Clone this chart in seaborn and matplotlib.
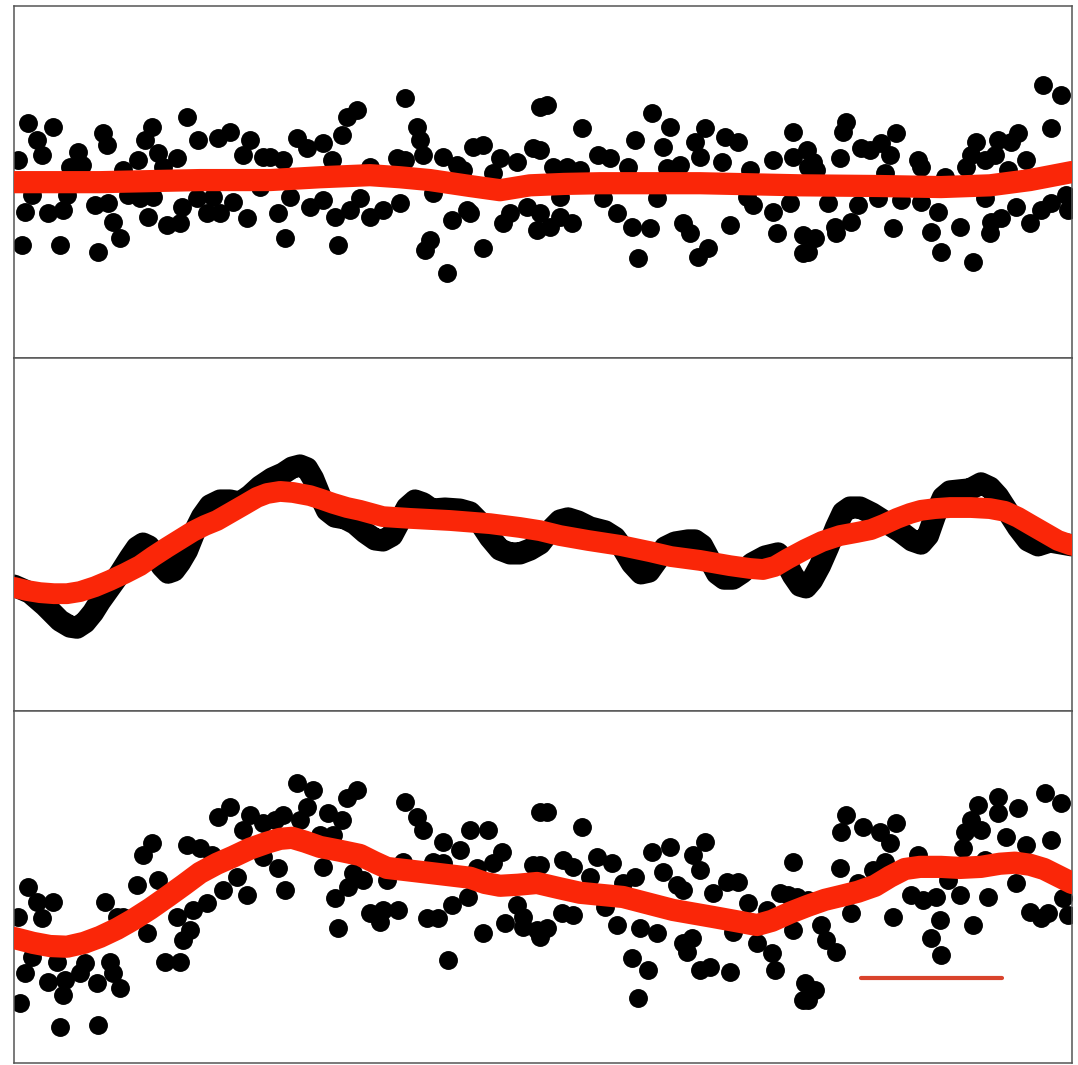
import matplotlib
matplotlib.use("Agg")
import matplotlib.pyplot as plt
from matplotlib.lines import Line2D
import seaborn as sns

# ---- noise samples (top panel) ----
noise_x = [1.4, 3.9, 2.3, 2.8, 0.4, 6.4, 8.9, 9.3, 5.6, 6.8, 10.9, 12.4, 13.8, 13.1, 14.4, 16.3, 14.9,
           17.3, 18.4, 20.4, 21.6, 23.6, 22.9, 24.9, 24.6, 1.1, 1.8, 3.4, 4.9, 5.3, 8.1, 9.4, 9.9, 10.6,
           8.4, 4.6, 0.8, 11.4, 12.6, 13.4, 15.3, 16.6, 16.8, 18.3, 19.3, 20.6, 21.9, 23.3, 19.9, 13.9,
           25.6, 28.3, 29.3, 30.9, 32.8, 33.3, 34.3, 31.8, 26.9, 39.1, 40.3, 40.6, 40.9, 38.3, 39.1, 35.6,
           42.9, 44.3, 44.9, 45.9, 46.9, 48.6, 50.3, 51.9, 52.6, 47.9, 27.6, 26.4, 27.1, 29.6, 30.9, 32.1,
           33.6, 34.6, 32.4, 35.6, 36.9, 38.6, 41.6, 41.1, 43.3, 43.8, 45.3, 45.6, 46.9, 48.9, 49.6, 51.3,
           52.3, 41.9,
           53.3, 56.8, 63.8, 65.6, 62.1, 64.9, 68.1, 69.1, 71.1, 72.4, 77.9, 52.6, 58.4, 59.6, 61.4, 65.3,
           66.6, 68.6, 70.8, 53.9, 55.3, 56.6, 73.6, 75.9, 77.9, 79.3, 52.6, 53.6, 54.6, 55.8, 58.9, 60.3,
           61.8, 63.6, 64.3, 66.9, 67.6, 62.4, 68.4, 69.4, 71.6, 73.9, 75.9, 76.3, 77.6, 78.9, 78.9, 73.3,
           54.6,
           102.9, 104.7, 103.7, 83.2, 82.9, 88.2, 84.7, 85.6, 86.7, 87.6, 82.6, 79.9, 90.4, 90.7, 96.2,
           98.4, 100.4, 99.7, 95.7, 95.2, 97.1, 98.1, 101.2, 99.4, 93.1, 87.1, 79.4, 80.2, 81.4, 84.4,
           83.7, 82.1, 80.1, 79.4, 82.2, 87.9, 88.7, 90.7, 92.4, 91.7, 92.7, 94.6, 95.9, 97.6, 97.7, 98.7,
           100.2, 101.6, 102.7, 103.7, 105.4, 105.2, 97.1, 86.4]
noise_y = [1.69, 1.57, 1.20, 0.77, 0.63, 0.86, 1.40, 1.06, 0.43, 0.49, 0.34, 0.63, 1.57, 1.20, 0.83, 0.69,
           0.43, 1.86, 1.20, 1.26, 1.43, 1.20, 0.77, 0.71, -0.14, -0.86, -0.37, -0.89, -0.80, -0.37, -0.66,
           -0.60, -1.14, -1.60, -2.00, -1.80, -1.80, -0.37, -0.46, -1.00, -1.23, -1.17, -0.71, -0.46, -0.89,
           -0.89, -0.57, -1.03, -0.43, -0.43,
           0.71, 1.26, 0.97, 1.11, 1.34, 1.86, 2.06, 0.63, 0.63, 2.40, 1.57, 1.20, 0.77, 0.69, 0.63, 0.43,
           0.71, 0.49, 0.34, 1.00, 1.06, 0.69, 0.57, 0.97, 2.14, 0.26, -0.43, -0.89, -1.60, -0.71, -0.51,
           -1.00, -0.80, -0.46, -1.80, -1.00, -0.80, -0.60, -1.66, -1.94, -2.60, -1.09, -0.80, -0.89, -1.89,
           -1.17, -0.89, -0.71, -1.37, -0.31,
           2.20, 1.54, 1.97, 1.57, 1.20, 1.00, 1.14, 1.54, 1.29, 1.14, 1.43, 0.91, 0.77, 0.69, 0.43, 0.40,
           0.49, 0.71, 0.57, 0.43, 0.43, 0.34, 0.34, 0.63, 0.71, 0.91, -0.89, -1.29, -1.00, -1.17, -0.46,
           -0.89, -1.29, -1.31, -0.46, -1.17, -1.46, -2.17, -2.14, -1.89, -1.23, -0.66, -0.86, -1.46, -0.60,
           -1.51, -2.03, -0.43, -0.43,
           2.77, 2.49, 1.54, 1.71, 1.43, 1.40, 0.97, 0.91, 1.11, 0.77, 0.69, 0.57, 0.63, 0.43, 1.14, 1.20,
           1.40, 1.14, 0.77, 0.43, 0.63, 0.77, 0.63, 0.34, 0.14, 0.26, 0.43, 0.34, -0.60, -0.66, -1.14,
           -1.29, -1.60, -2.00, -1.46, -1.31, -0.51, -0.57, -0.86, -1.43, -2.00, -1.29, -2.29, -1.46, -1.14,
           -1.03, -0.71, -1.17, -0.80, -0.60, -0.80, -0.37, -0.46, -0.46]
noise_fit_x = [0, 8.6, 18.6, 25.6, 30.6, 35.6, 38.6, 41.6, 45.6, 48.6, 51.6, 55.0, 58.6, 68.6, 78.6, 86.6,
               92.7, 97.6, 101.6, 105.8]
noise_fit_y = [0.0, 0.0, 0.06, 0.06, 0.14, 0.20, 0.14, 0.06, -0.11, -0.23, -0.09, -0.05, -0.03, -0.03,
               -0.09, -0.11, -0.14, -0.09, 0.06, 0.29]

# ---- clean signal (middle panel) ----
signal_x = [0.0, 1.6, 3.1, 4.6, 5.6, 6.3, 7.1, 7.9, 8.6, 9.6, 10.6, 11.6, 12.3, 12.9, 13.5, 14.1, 14.8,
            15.4, 16.0, 16.6, 17.3, 18.1, 18.8, 19.6, 20.6, 21.6, 22.6, 23.6, 24.6, 25.8, 26.9, 27.8, 28.6,
            29.3, 29.9, 30.6, 31.3, 32.1, 33.1, 34.1, 35.1, 36.1, 36.9, 37.8, 38.6, 39.3, 40.1, 40.9, 41.8,
            43.1, 44.6, 45.6, 46.6, 47.6, 48.6, 49.6, 50.6, 51.6, 52.6, 53.6, 54.6, 55.4, 56.4, 57.6, 59.1,
            60.1, 60.9, 61.8, 62.7, 63.5, 64.3, 65.1, 66.1, 67.4, 68.1, 68.8, 69.6, 70.3, 71.0, 71.9, 72.8,
            73.8, 75.1, 76.4, 77.1, 77.9, 78.6, 79.2, 79.8, 80.6, 81.4, 82.2, 82.9, 83.6, 84.6, 85.8, 87.4,
            88.6, 89.8, 90.7, 91.4, 92.1, 92.9, 93.6, 94.6, 95.6, 96.7, 97.6, 98.4, 99.3, 100.4, 101.4,
            102.4, 103.6, 105.8]
signal_y = [-1.46, -1.66, -2.03, -2.46, -2.63, -2.66, -2.51, -2.23, -1.91, -1.51, -1.11, -0.66, -0.37,
            -0.26, -0.34, -0.60, -0.91, -1.09, -1.03, -0.80, -0.46, 0.11, 0.51, 0.83, 0.97, 0.97, 0.91,
            1.11, 1.37, 1.60, 1.74, 1.91, 1.97, 1.89, 1.60, 1.11, 0.69, 0.51, 0.46, 0.31, 0.06, -0.14,
            -0.17, -0.03, 0.40, 0.77, 0.97, 0.89, 0.71, 0.74, 0.71, 0.63, 0.34, -0.09, -0.43, -0.54, -0.54,
            -0.43, -0.26, 0.11, 0.40, 0.46, 0.37, 0.20, 0.09, -0.09, -0.40, -0.83, -1.11, -1.06, -0.74,
            -0.37, -0.23, -0.17, -0.17, -0.31, -0.74, -1.11, -1.26, -1.26, -1.09, -0.83, -0.63, -0.54,
            -0.74, -1.17, -1.46, -1.51, -1.31, -0.89, -0.37, 0.20, 0.63, 0.77, 0.77, 0.60, 0.31, 0.09,
            -0.17, -0.26, -0.03, 0.54, 1.06, 1.23, 1.26, 1.29, 1.46, 1.34, 1.09, 0.69, 0.20, -0.17, -0.31,
            -0.20, -0.31]
signal_fit_x = [0, 1.3, 2.6, 4.0, 5.3, 6.6, 8.1, 9.6, 11.1, 12.6, 13.9, 15.3, 16.6, 17.9, 19.1, 20.3,
                21.7, 23.1, 24.3, 25.3, 26.6, 27.9, 29.6, 30.8, 31.9, 33.3, 34.6, 36.9, 39.6, 43.6, 47.6,
                50.6, 52.6, 54.6, 57.4, 60.6, 63.6, 65.7, 68.6, 71.6, 73.6, 74.9, 76.1, 77.4, 79.1, 80.8,
                82.6, 84.3, 85.7, 87.0, 88.3, 89.6, 90.7, 92.1, 93.6, 95.7, 97.6, 99.1, 100.4, 101.6, 103.0,
                104.4, 105.8]
signal_fit_y = [-1.51, -1.60, -1.66, -1.69, -1.69, -1.63, -1.49, -1.31, -1.11, -0.89, -0.63, -0.37, -0.14,
                0.09, 0.26, 0.40, 0.63, 0.86, 1.06, 1.17, 1.23, 1.20, 1.11, 1.00, 0.89, 0.77, 0.69, 0.51,
                0.46, 0.40, 0.31, 0.20, 0.11, -0.03, -0.17, -0.31, -0.49, -0.63, -0.74, -0.89, -0.97, -1.00,
                -0.91, -0.69, -0.43, -0.20, -0.03, 0.06, 0.14, 0.29, 0.46, 0.60, 0.69, 0.74, 0.77, 0.77,
                0.74, 0.66, 0.49, 0.29, 0.06, -0.17, -0.31]

# ---- noisy observations (bottom panel) ----
obs_x = [1.4, 2.3, 3.9, 2.8, 0.4, 9.1, 12.3, 14.4, 12.9, 13.8, 17.3, 18.6, 19.8, 20.4, 21.6, 23.6, 22.9,
         24.9, 24.9, 22.3, 20.9, 23.3, 19.3, 17.9, 16.3, 14.6, 10.9, 13.3, 16.9, 17.6, 15.1, 16.6, 1.8,
         1.1, 3.4, 5.1, 4.9, 4.3, 7.1, 8.3, 9.6, 9.9, 10.6, 6.6, 0.6, 4.6, 8.4, 10.3,
         28.3, 29.9, 33.3, 34.3, 29.3, 31.4, 32.8, 26.9, 28.6, 26.1, 30.6, 31.9, 39.1, 40.3, 40.9, 42.9,
         44.6, 45.6, 47.4, 48.8, 47.9, 51.9, 52.6, 26.4, 27.1, 30.9, 33.9, 34.9, 33.4, 32.1, 37.3, 38.9,
         41.9, 42.9, 46.3, 35.6, 36.9, 38.4, 36.6, 32.4, 41.3, 42.4, 43.8, 45.4, 43.4, 46.9, 49.1, 50.3,
         50.9, 52.3, 50.9,
         53.3, 56.8, 63.8, 65.6, 69.1, 67.9, 64.9, 68.6, 62.1, 77.9, 52.6, 54.9, 55.9, 58.3, 59.8, 57.6,
         60.9, 66.3, 66.9, 69.9, 71.3, 72.4, 73.4, 76.6, 77.4, 78.3, 53.3, 52.6, 54.8, 55.9, 59.1, 60.3,
         62.6, 64.3, 66.9, 67.8, 67.3, 61.8, 63.4, 68.6, 69.6, 71.6, 62.4, 71.9, 74.3, 75.8, 76.1, 77.9,
         79.1, 78.9, 75.3,
         83.2, 82.7, 84.9, 86.6, 88.2, 87.6, 82.6, 85.9, 87.1, 90.4, 96.4, 98.4, 98.4, 100.4, 103.1, 104.7,
         95.7, 95.1, 96.7, 94.9, 99.2, 101.2, 103.7, 97.1, 79.4, 83.7, 84.4, 80.7, 81.2, 82.2, 87.9, 89.7,
         90.9, 92.2, 92.6, 94.6, 91.7, 92.7, 95.9, 97.4, 100.2, 101.6, 102.7, 103.4, 105.4, 104.9, 80.1,
         79.4, 93.4]
obs_y = [0.0, -0.43, -0.43, -0.89, -0.86, -0.43, 0.06, 0.20, 0.91, 1.26, 1.20, 1.11, 0.91, 2.00, 2.29,
         2.06, 1.63, 1.83, 0.86, 0.29, -0.09, -0.23, -0.46, -0.66, -0.86, -0.37, -0.86, -1.31, -1.51,
         -1.23, -2.14, -2.14, -2.00, -2.46, -2.71, -2.66, -3.09, -2.14, -2.17, -2.74, -2.14, -2.46, -2.89,
         -2.46, -3.31, -4.00, -3.94, -0.86,
         2.97, 2.77, 2.54, 2.77, 2.29, 2.11, 1.91, 2.06, 1.91, 1.91, 1.49, 1.49, 2.43, 2.00, 1.63, 1.29,
         1.06, 1.63, 1.63, 1.00, 0.69, 0.63, 2.14, 0.54, -0.09, 0.57, 0.40, 0.20, 0.0, -0.31, 0.20, 0.71,
         0.71, 0.69, 0.54, -0.74, -0.66, -0.66, -1.00, -1.17, -0.89, -0.89, -0.51, -0.29, -2.09, -1.31,
         -1.03, -0.51, -1.14, -1.23, -0.86,
         2.14, 1.71, 1.00, 1.14, 1.29, 0.91, 0.43, 0.49, 0.29, 0.71, 0.63, 0.77, 0.57, 0.86, 0.69, 0.29,
         0.11, 0.06, -0.09, -0.17, 0.14, 0.14, -0.46, -0.17, -0.23, -0.29, -1.17, -1.43, -0.74, -0.80,
         -0.57, -1.09, -1.17, -1.31, -1.60, -1.46, -1.86, -2.03, -2.37, -2.37, -2.29, -2.43, -3.17, -1.29,
         -1.60, -1.89, -2.37, -1.23, -2.74, -3.23, -0.66,
         2.06, 1.57, 1.71, 1.57, 1.83, 1.26, 0.54, 0.49, 0.71, 0.91, 2.34, 2.57, 2.11, 2.26, 2.69, 2.40,
         1.91, 1.57, 1.63, 1.11, 1.43, 1.20, 1.34, 0.77, -0.37, -0.74, 0.11, -1.09, -1.51, -1.86, -0.86,
         -0.23, -0.37, -0.29, -0.94, -0.23, -1.46, -1.94, -1.09, -0.29, 0.11, -0.71, -0.89, -0.74, -0.80,
         -0.31, -2.94, -3.23, 0.20]
obs_fit_x = [0, 1.9, 3.6, 5.3, 7.0, 8.6, 10.3, 11.9, 13.6, 15.3, 17.0, 18.6, 20.3, 21.9, 23.6, 25.3, 26.6,
             27.8, 29.1, 30.6, 32.6, 34.6, 36.0, 37.3, 40.6, 45.6, 47.1, 48.6, 50.4, 52.3, 54.4, 56.6,
             60.9, 63.6, 65.9, 69.9, 72.6, 74.3, 75.8, 77.6, 79.4, 81.1, 82.7, 84.4, 86.1, 87.6, 89.1,
             90.6, 92.7, 94.6, 96.7, 98.6, 100.1, 101.6, 103.0, 104.4, 105.8]
obs_fit_y = [-1.46, -1.60, -1.69, -1.71, -1.60, -1.43, -1.20, -0.94, -0.63, -0.29, 0.06, 0.40, 0.66, 0.86,
             1.09, 1.26, 1.37, 1.40, 1.29, 1.14, 1.03, 0.91, 0.71, 0.54, 0.43, 0.26, 0.11, 0.03, 0.06,
             0.11, -0.03, -0.17, -0.29, -0.49, -0.66, -0.86, -1.00, -1.09, -0.97, -0.74, -0.54, -0.37,
             -0.26, -0.14, 0.03, 0.29, 0.51, 0.57, 0.57, 0.54, 0.57, 0.66, 0.69, 0.63, 0.51, 0.31, 0.11]

FIT_RED = "#fa2608"
DOT_SIZE = 185
LINE_W = 16

sns.set_theme(style="white")

fig, axes = plt.subplots(3, 1, figsize=(10.78, 10.65), dpi=100, sharex=True)
fig.subplots_adjust(left=14 / 1078, right=1072 / 1078, top=1 - 6 / 1065, bottom=1 - 1063 / 1065,
                    hspace=0)

round_style = dict(solid_capstyle="round", solid_joinstyle="round")

# top: noise
ax = axes[0]
sns.scatterplot(x=noise_x, y=noise_y, ax=ax, color="black", s=DOT_SIZE, linewidth=0, zorder=2)
sns.lineplot(x=noise_fit_x, y=noise_fit_y, ax=ax, color=FIT_RED, linewidth=LINE_W, sort=False,
             estimator=None, zorder=3, **round_style)

# middle: signal with its smooth trend
ax = axes[1]
sns.lineplot(x=signal_x, y=signal_y, ax=ax, color="black", linewidth=LINE_W, sort=False,
             estimator=None, zorder=2, **round_style)
sns.lineplot(x=signal_fit_x, y=signal_fit_y, ax=ax, color=FIT_RED, linewidth=LINE_W - 1, sort=False,
             estimator=None, zorder=3, **round_style)

# bottom: observations
ax = axes[2]
sns.scatterplot(x=obs_x, y=obs_y, ax=ax, color="black", s=DOT_SIZE, linewidth=0, zorder=2)
sns.lineplot(x=obs_fit_x, y=obs_fit_y, ax=ax, color=FIT_RED, linewidth=LINE_W, sort=False,
             estimator=None, zorder=3, **round_style)
key = Line2D([], [], color="#d9432c", linewidth=3)
ax.legend(handles=[key], labels=[""], loc="center", bbox_to_anchor=(0.867, 0.24),
          handlelength=9.2, handletextpad=0, borderpad=0.3, frameon=False)

for ax in axes:
    ax.set_xlim(0, 105.8)
    ax.set_ylim(-5.03, 5.03)
    ax.set_xticks([])
    ax.set_yticks([])
    ax.set_xlabel("")
    ax.set_ylabel("")
    for sp in ax.spines.values():
        sp.set_color("#555555")
        sp.set_linewidth(1.1)

fig.savefig("out.png", dpi=100)
